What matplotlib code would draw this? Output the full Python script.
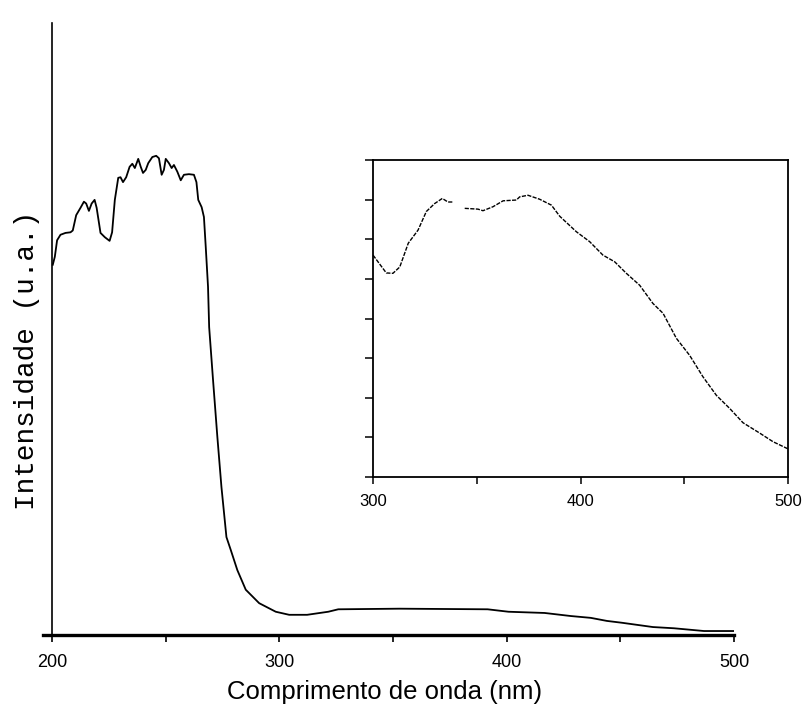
import numpy as np
import matplotlib
matplotlib.use("Agg")
import matplotlib.pyplot as plt
from matplotlib.ticker import FixedLocator, NullFormatter

# Main spectrum: wavelength (nm) vs intensity (a.u., 0-100)
wl_main = [200.3, 201.2, 202.2, 203.7, 205.9, 208.1, 209.1, 210.6, 212.5, 214.0,
           215.0, 216.2, 217.4, 218.7, 219.6, 221.3, 223.2, 225.3, 226.4, 227.6,
           229.1, 230.1, 231.2, 232.6, 234.1, 235.3, 236.4, 237.9, 239.0, 240.0,
           241.2, 242.3, 244.1, 245.8, 247.0, 248.2, 249.2, 250.0, 251.4, 252.6,
           253.6, 255.1, 256.6, 258.0, 260.2, 262.4, 263.5, 264.3, 265.8, 266.8,
           267.6, 268.6, 269.1, 270.8, 272.7, 274.5, 276.7, 278.6, 281.5, 285.2,
           291.1, 298.4, 304.3, 312.2, 321.5, 325.9, 352.8, 391.6, 400.8, 416.7,
           428.2, 437.0, 444.1, 450.7, 464.3, 473.6, 486.8, 500.0]
int_main = [60.5, 61.8, 64.5, 65.4, 65.7, 65.8, 66.1, 68.6, 69.8, 70.8,
            70.5, 69.3, 70.5, 71.1, 69.8, 65.7, 65.0, 64.4, 65.8, 71.1,
            74.7, 74.8, 74.0, 74.8, 76.5, 77.0, 76.3, 77.8, 76.5, 75.5,
            76.0, 77.1, 78.1, 78.3, 77.9, 75.2, 76.0, 77.8, 77.1, 76.3,
            76.8, 75.7, 74.3, 75.2, 75.3, 75.2, 74.0, 71.1, 69.9, 68.3,
            63.4, 56.9, 50.3, 41.7, 32.4, 24.2, 16.0, 13.9, 10.6, 7.4,
            5.2, 3.8, 3.3, 3.3, 3.8, 4.2, 4.3, 4.2, 3.8, 3.6,
            3.1, 2.8, 2.3, 2.0, 1.3, 1.1, 0.65, 0.65]

# Inset: zoom on 300-500 nm (a.u., 0-8); NaN marks the gap in the trace
wl_inset = [300.0, 306.4, 309.6, 312.9, 317.0, 321.7, 325.7, 329.7, 333.4, 336.1,
            338.6, 341.0, 344.2, 350.6, 353.0, 357.8, 362.7, 369.1, 370.7, 374.7,
            380.3, 386.0, 390.0, 398.0, 404.4, 410.8, 416.5, 422.1, 428.5, 434.9,
            439.8, 446.2, 452.6, 459.0, 465.5, 471.9, 478.3, 486.3, 492.8, 500.0]
int_inset = [5.60, 5.15, 5.14, 5.30, 5.90, 6.23, 6.70, 6.90, 7.03, 6.94,
             6.94, np.nan, 6.78, 6.76, 6.72, 6.82, 6.97, 6.99, 7.07, 7.11,
             7.01, 6.86, 6.58, 6.19, 5.94, 5.60, 5.43, 5.14, 4.84, 4.38,
             4.13, 3.50, 3.07, 2.53, 2.06, 1.73, 1.37, 1.11, 0.89, 0.71]

W, H = 802, 704
fig = plt.figure(figsize=(W / 100, H / 100), dpi=100)

# ---- main axes ----
ax = fig.add_axes([43 / W, 1 - 635 / H, 691 / W, 612 / H])
ax.plot(wl_main, int_main, color="black", lw=1.3)
ax.set_xlim(196, 500)
ax.set_ylim(0, 100)
ax.spines["top"].set_visible(False)
ax.spines["right"].set_visible(False)
ax.spines["left"].set_position(("data", 200))
ax.spines["left"].set_linewidth(1.2)
ax.spines["bottom"].set_linewidth(2.4)
ax.set_yticks([])
ax.xaxis.set_major_locator(FixedLocator([200, 300, 400, 500]))
ax.xaxis.set_minor_locator(FixedLocator([250, 350, 450]))
ax.tick_params(axis="x", which="both", direction="out", length=5, width=1.2,
               pad=9, labelsize=13)
for t in ax.get_xticklabels():
    t.set_family("Liberation Sans")

fig.text(385 / W, 1 - 692 / H, "Comprimento de onda (nm)",
         ha="center", va="center", fontsize=18.5, family="Liberation Sans")
fig.text(27 / W, 1 - 360 / H, "Intensidade (u.a.)", rotation=90,
         ha="center", va="center", fontsize=20, family="Liberation Mono")

# ---- inset ----
ins = fig.add_axes([373 / W, 1 - 477 / H, 415 / W, 317 / H])
ins.plot(wl_inset, int_inset, color="black", lw=1.0, ls=(0, (3, 1)))
ins.set_xlim(300, 500)
ins.set_ylim(0, 8)
for s in ins.spines.values():
    s.set_linewidth(1.3)
ins.xaxis.set_major_locator(FixedLocator([300, 400, 500]))
ins.xaxis.set_minor_locator(FixedLocator([350, 450]))
ins.yaxis.set_major_locator(FixedLocator(range(9)))
ins.yaxis.set_major_formatter(NullFormatter())
ins.tick_params(axis="x", which="both", direction="out", length=5, width=1.1,
                pad=7, labelsize=12)
ins.tick_params(axis="y", direction="out", length=6, width=1.1)
for t in ins.get_xticklabels():
    t.set_family("Liberation Sans")

fig.savefig("out.png", dpi=100)
